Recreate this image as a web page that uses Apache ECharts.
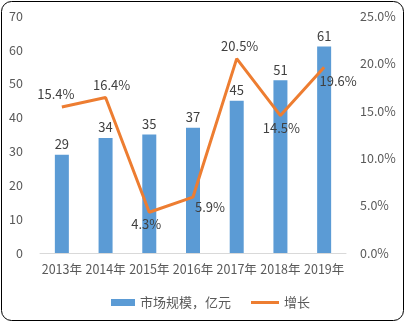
<!DOCTYPE html>
<html>
<head>
<meta charset="utf-8">
<script src="https://cdn.jsdelivr.net/npm/echarts@6/dist/echarts.min.js"></script>
<style>
  html, body { margin: 0; padding: 0; background: #fff; }
  #chart { width: 406px; height: 323px; }
</style>
</head>
<body>
<div id="chart"></div>
<script>
// Market size (亿元) and year-on-year growth (%)
const years = ['2013年', '2014年', '2015年', '2016年', '2017年', '2018年', '2019年'];
const marketSize = [29, 34, 35, 37, 45, 51, 61];
const growth = [15.4, 16.4, 4.3, 5.9, 20.5, 14.5, 19.6];
const growthLabelPos = ['top', 'top', 'bottom', 'bottom', 'top', 'bottom', 'bottom'];
const growthLabelOffset = [[-6, 0], [6, 0], [-3, -1], [17, -3], [3, 0], [1, 0], [14, 1]];

const FONT = '"Noto Sans CJK SC", "Noto Sans", sans-serif';
const TEXT = '#595959';

const chart = echarts.init(document.getElementById('chart'), null, { renderer: 'canvas' });

chart.setOption({
  animation: false,
  textStyle: { fontFamily: FONT },
  graphic: [{
    type: 'rect',
    shape: { x: 1.5, y: 1.5, width: 402, height: 319, r: 10 },
    style: { fill: 'none', stroke: '#000', lineWidth: 1 },
    z: 100
  }],
  grid: { left: 40, right: 60, top: 16, bottom: 70 },
  legend: [{
    data: ['市场规模，亿元'],
    left: 106, top: 291,
    icon: 'rect', itemWidth: 24, itemHeight: 7, itemGap: 10,
    textStyle: { color: TEXT, fontSize: 13, fontFamily: FONT }
  }, {
    data: ['增长'],
    left: 246, top: 291,
    icon: 'rect', itemWidth: 28, itemHeight: 3,
    textStyle: { color: TEXT, fontSize: 13, fontFamily: FONT }
  }],
  xAxis: {
    type: 'category',
    data: years,
    axisLine: { lineStyle: { color: '#d9d9d9', width: 1 } },
    axisTick: { show: false },
    axisLabel: { color: TEXT, fontSize: 12.5, margin: 10, interval: 0, fontFamily: FONT }
  },
  yAxis: [{
    type: 'value',
    min: 0, max: 70, interval: 10,
    splitLine: { show: false },
    axisLine: { show: false },
    axisTick: { show: false },
    axisLabel: { color: TEXT, fontSize: 12.5, margin: 17, fontFamily: FONT }
  }, {
    type: 'value',
    min: 0, max: 25, interval: 5,
    splitLine: { show: false },
    axisLine: { show: false },
    axisTick: { show: false },
    axisLabel: {
      color: TEXT, fontSize: 12.5, margin: 14, fontFamily: FONT,
      formatter: v => v.toFixed(1) + '%'
    }
  }],
  series: [{
    name: '市场规模，亿元',
    type: 'bar',
    data: marketSize,
    barWidth: 14,
    itemStyle: { color: '#5B9BD5' },
    label: { show: true, position: 'top', color: '#404040', fontSize: 13, distance: 4, fontFamily: FONT }
  }, {
    name: '增长',
    type: 'line',
    yAxisIndex: 1,
    symbol: 'circle',
    symbolSize: 0,
    showSymbol: true,
    itemStyle: { color: '#ED7D31' },
    lineStyle: { color: '#ED7D31', width: 3 },
    data: growth.map((v, i) => ({
      value: v,
      label: {
        show: true,
        position: growthLabelPos[i],
        offset: growthLabelOffset[i],
        distance: 6,
        color: '#404040',
        fontSize: 13,
        fontFamily: FONT,
        formatter: p => p.value.toFixed(1) + '%'
      }
    }))
  }]
});
</script>
</body>
</html>
